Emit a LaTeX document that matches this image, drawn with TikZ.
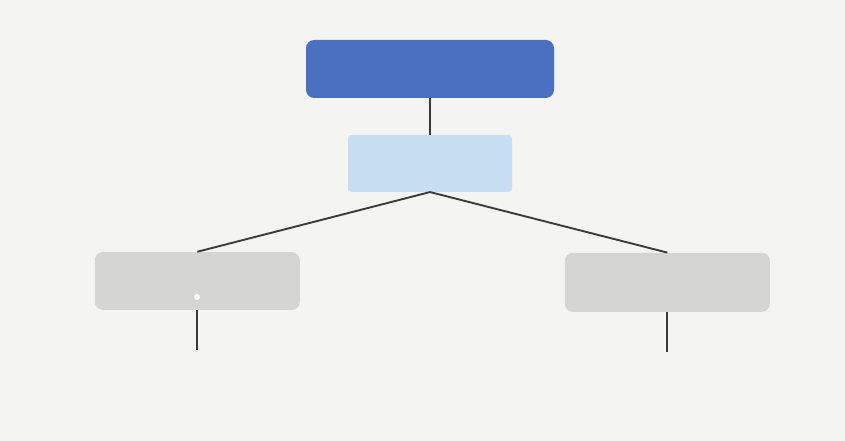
\documentclass[tikz,border=0pt]{standalone}
\usetikzlibrary{positioning}

\definecolor{paper}{HTML}{F4F4F2}
\definecolor{boxDark}{HTML}{4A70C0}
\definecolor{boxLight}{HTML}{C8DEF3}
\definecolor{boxGrey}{HTML}{D5D5D4}
\definecolor{wire}{HTML}{3A3A3A}

\begin{document}
\begin{tikzpicture}[
    box/.style={rounded corners=7pt, inner sep=0pt, minimum height=1.74cm},
    link/.style={line width=1.6pt, wire},
]

% --- page ---
\fill[paper] (0,0) rectangle (25.35,-13.23);
\useasboundingbox (0,0) rectangle (25.35,-13.23);

% --- top level ---
\node[box, fill=boxDark, minimum width=7.44cm]
    (head) at (12.9, -2.07) {};

\node[box, fill=boxLight, rounded corners=3pt, minimum width=4.92cm, minimum height=1.71cm]
    (mid) at (12.9, -4.9) {};

% --- lower level ---
\node[box, fill=boxGrey, minimum width=6.15cm]
    (left) at (5.92, -8.43) {};
\node[box, fill=boxGrey, minimum width=6.15cm, minimum height=1.77cm]
    (right) at (20.02, -8.47) {};

\coordinate (leftEnd) at (5.92, -10.5);
\coordinate (rightEnd) at (20.02, -10.56);

\draw[link] (head) -- (mid);
\draw[link] (mid.south) -- (left.north);
\draw[link] (mid.south) -- (right.north);
\draw[link] (left.south) -- (leftEnd);
\draw[link] (right.south) -- (rightEnd);

% small speck on the left box
\fill[white] (5.91, -8.91) circle (0.09);

\end{tikzpicture}
\end{document}
